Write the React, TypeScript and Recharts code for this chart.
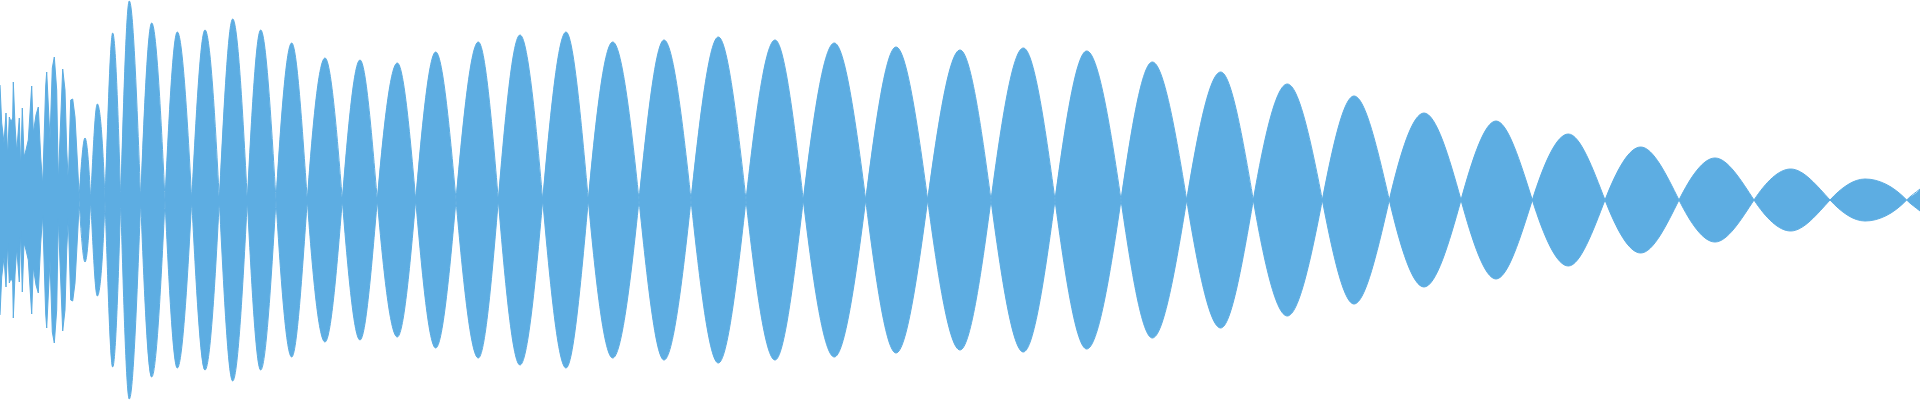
import React from 'react';
import { AreaChart, Area, XAxis, YAxis } from 'recharts';

// Noisy onset section (sample position, half-amplitude)
const noiseT = [0, 1.7, 4, 6, 7.7, 9.3, 11, 12.7, 13.3, 15, 16.7, 19.3, 20.7, 22.3, 24, 26, 28.3, 31.7, 33.3, 36, 38.3, 40.7, 42.7, 45.7, 46.7, 50, 52.3, 54.3, 56.7, 58.3, 60.7, 62.7, 65, 66.7, 68.3, 70.7, 72.7, 75, 77.3, 79];
const noiseAmp = [0.575, 0.385, 0.285, 0.435, 0.215, 0.415, 0.39, 0.41, 0.59, 0.375, 0.24, 0.41, 0.15, 0.46, 0.215, 0.25, 0.3, 0.57, 0.335, 0.425, 0.465, 0.215, 0.075, 0.57, 0.64, 0.3, 0.66, 0.715, 0.55, 0.09, 0.4, 0.655, 0.55, 0.25, 0.09, 0.5, 0.505, 0.415, 0.2, 0.035];

// Zero crossings of the oscillation
const nodeT = [79, 90.7, 105, 120.7, 140.7, 165, 191.7, 219.3, 247.3, 276, 307.3, 342.3, 377.3, 415.7, 456, 498.3, 542.7, 588.3, 639, 691, 746, 803.3, 865.7, 927.7, 991, 1055, 1121, 1186.7, 1253.3, 1322.3, 1389.3, 1461, 1532.3, 1605, 1679, 1754, 1830, 1906.7];
// Lobe peaks (last entry: value at the right edge)
const peakT = [85, 97.3, 112.7, 129.3, 151.7, 177.3, 205, 232.7, 260.7, 291.7, 325, 360, 397.3, 435.7, 478.3, 520, 566, 612.7, 664, 718.3, 775, 834.3, 896, 960, 1023.3, 1086.7, 1152.3, 1220.7, 1287.3, 1354, 1424, 1496, 1568.3, 1640.7, 1715, 1790.7, 1865, 1920];
const peakAmp = [0.31, 0.48, 0.835, 0.995, 0.885, 0.84, 0.85, 0.905, 0.85, 0.785, 0.71, 0.7, 0.685, 0.74, 0.79, 0.825, 0.84, 0.79, 0.8, 0.815, 0.8, 0.785, 0.765, 0.75, 0.76, 0.745, 0.69, 0.64, 0.58, 0.52, 0.435, 0.395, 0.33, 0.265, 0.21, 0.155, 0.105, 0.055];

const COLOR = '#5DADE2';

type Row = { t: number; noise?: [number, number]; wave?: [number, number] };

function buildData(): Row[] {
  const rows: Row[] = [];
  noiseT.forEach((t, i) => {
    rows.push({ t, noise: [-noiseAmp[i], noiseAmp[i]] });
  });
  const wave: Row[] = [];
  nodeT.forEach((t) => wave.push({ t, wave: [0, 0] }));
  peakT.forEach((t, i) => {
    const s = (i % 2 === 0 ? 1 : -1) * peakAmp[i];
    wave.push({ t, wave: [-s, s] });
  });
  wave.sort((a, b) => a.t - b.t);
  return rows.concat(wave);
}

const data = buildData();

// Oscillation-shaped interpolation: flat tangent at extremes, sine-like slope at crossings.
const K = 0.3261;
class SineCurve {
  _context: any;
  _line: number = NaN;
  _x: number[] | null = null;
  _y: number[] | null = null;
  constructor(context: any) {
    this._context = context;
  }
  areaStart() {
    this._line = 0;
  }
  areaEnd() {
    this._line = NaN;
  }
  lineStart() {
    this._x = [];
    this._y = [];
  }
  point(x: number, y: number) {
    this._x!.push(+x);
    this._y!.push(+y);
  }
  lineEnd() {
    const x = this._x!;
    const y = this._y!;
    const n = x.length;
    const ctx = this._context;
    if (n) {
      if (this._line) ctx.lineTo(x[0], y[0]);
      else ctx.moveTo(x[0], y[0]);
      if (n === 2) {
        ctx.lineTo(x[1], y[1]);
      } else if (n > 2) {
        const d: number[] = [];
        for (let i = 0; i < n - 1; i++) {
          const h = x[i + 1] - x[i];
          d.push(h === 0 ? 0 : (y[i + 1] - y[i]) / h);
        }
        const m: number[] = [];
        for (let i = 0; i < n; i++) {
          if (i === 0) m.push((Math.PI / 2) * d[0]);
          else if (i === n - 1) m.push(d[n - 2]);
          else if (d[i - 1] * d[i] <= 0) m.push(0);
          else m.push((Math.PI / 2) * 0.5 * (d[i - 1] + d[i]));
        }
        for (let i = 0; i < n - 1; i++) {
          const h = x[i + 1] - x[i];
          ctx.bezierCurveTo(
            x[i] + K * h,
            y[i] + K * h * m[i],
            x[i + 1] - K * h,
            y[i + 1] - K * h * m[i + 1],
            x[i + 1],
            y[i + 1],
          );
        }
      }
    }
    if (this._line || (this._line !== 0 && n === 1)) ctx.closePath();
    this._line = 1 - this._line;
    this._x = null;
    this._y = null;
  }
}
const curveSine: any = (context: any) => new SineCurve(context);

export default function App() {
  return (
    <div style={{ position: 'fixed', left: 0, top: 0, width: 1920, height: 400, background: '#fff' }}>
      <AreaChart width={1920} height={400} data={data} margin={{ top: 0, right: 0, bottom: 0, left: 0 }}>
        <XAxis dataKey="t" type="number" domain={[0, 1920]} allowDataOverflow hide />
        <YAxis type="number" domain={[-1, 1]} allowDataOverflow hide />
        <Area
          dataKey="noise"
          type="linear"
          stroke={COLOR}
          strokeWidth={1}
          fill={COLOR}
          fillOpacity={1}
          isAnimationActive={false}
          connectNulls={false}
          dot={false}
          activeDot={false}
        />
        <Area
          dataKey="wave"
          type={curveSine}
          stroke={COLOR}
          strokeWidth={1}
          fill={COLOR}
          fillOpacity={1}
          isAnimationActive={false}
          connectNulls={false}
          dot={false}
          activeDot={false}
        />
      </AreaChart>
    </div>
  );
}
